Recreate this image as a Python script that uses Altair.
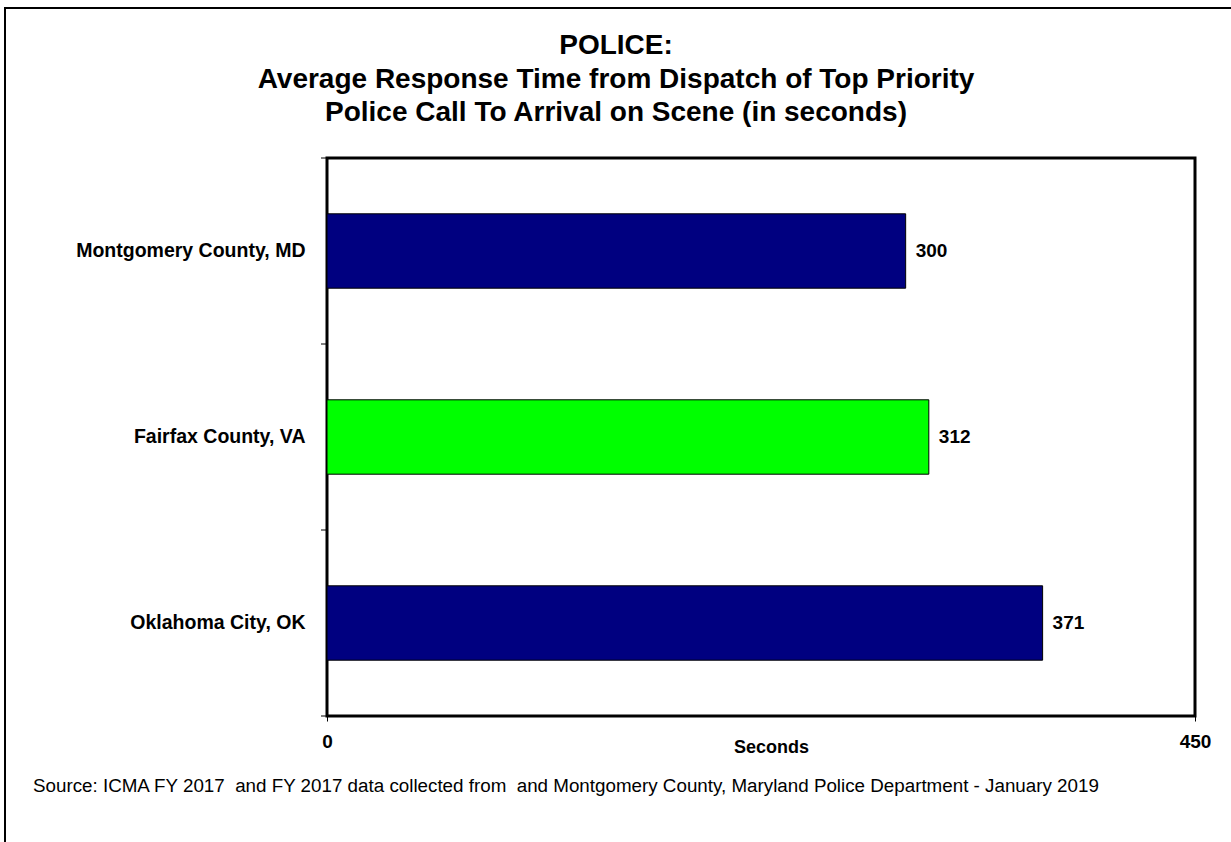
import altair as alt
import pandas as pd

categories = ["Montgomery County, MD", "Fairfax County, VA", "Oklahoma City, OK"]
values = [300, 312, 371]
colors = ["#000080", "#00FF00", "#000080"]
boundaries = [0, 1, 2, 3]
title_lines = ["POLICE:",
               "Average Response Time from Dispatch of Top Priority",
               "Police Call To Arrival on Scene (in seconds)"]
source_text = ("Source: ICMA FY 2017 \u00a0and FY 2017 data collected from \u00a0and Montgomery County, "
               "Maryland Police Department - January 2019")
x_ticks = [0, 450]

df = pd.DataFrame({"cat": categories, "val": values, "color": colors})
FONT = "Liberation Sans"

W, H = 868, 558

xscale = alt.Scale(domain=[0, 450], nice=False, zero=True)
yscale = alt.Scale(domain=categories, paddingInner=0.6, paddingOuter=0.3)

bars = alt.Chart(df).mark_bar(stroke="black", strokeWidth=1).encode(
    x=alt.X("val:Q", scale=xscale,
            axis=alt.Axis(values=x_ticks, title="Seconds", grid=False, domain=False,
                          tickSize=5, tickColor="black", labelPadding=11, labelFlush=False,
                          labelFont=FONT, labelFontSize=19, labelFontWeight="bold",
                          labelColor="black", titleFont=FONT, titleFontSize=18,
                          titleFontWeight="bold", titleColor="black", titlePadding=-13,
                          titleX=W / 2 + 10)),
    y=alt.Y("cat:N", scale=yscale, sort=categories,
            axis=alt.Axis(title=None, domain=False, ticks=False, labelPadding=22,
                          labelFont=FONT, labelFontSize=19.5, labelFontWeight="bold",
                          labelColor="black", labelLimit=400)),
    color=alt.Color("color:N", scale=None),
)

labels = alt.Chart(df).mark_text(align="left", baseline="middle", dx=10, font=FONT,
                                 fontSize=19, fontWeight="bold", color="black").encode(
    x=alt.X("val:Q", scale=xscale),
    y=alt.Y("cat:N", scale=yscale, sort=categories),
    text=alt.Text("val:Q"),
)

ticks = alt.Chart(pd.DataFrame({"b": boundaries})).mark_rule(
    color="black", strokeWidth=1
).encode(
    y=alt.Y("b:Q", scale=alt.Scale(domain=[0, 3], nice=False), axis=None),
    x=alt.value(-6), x2=alt.value(0),
)

source = alt.Chart(pd.DataFrame({"t": [source_text]})).mark_text(
    align="left", baseline="middle", font=FONT, fontSize=18.8, color="black"
).encode(x=alt.value(33 - 327), y=alt.value(786 - 158), text="t:N")

title = alt.Chart(pd.DataFrame({"a": [0]})).mark_text(
    text=title_lines, align="center", baseline="middle", font=FONT, fontSize=28,
    fontWeight="bold", lineHeight=33.5, color="black"
).encode(x=alt.value(616 - 327), y=alt.value(46 - 158))

frame = alt.Chart(pd.DataFrame({"a": [0]})).mark_rect(
    fill=None, stroke="black", strokeWidth=2
).encode(x=alt.value(5 - 327), x2=alt.value(1300 - 327),
         y=alt.value(8 - 158), y2=alt.value(900 - 158))

main = alt.layer(bars, labels)
chart = alt.layer(frame, title, source, main, ticks).resolve_scale(y="independent").properties(
    width=W, height=H,
    background="white",
    autosize=alt.AutoSizeParams(type="none"),
    padding={"left": 327, "top": 158, "right": 36, "bottom": 126},
).configure_view(stroke="black", strokeWidth=3)

chart.save("out.html", embed_options={"renderer": "svg", "actions": False})
